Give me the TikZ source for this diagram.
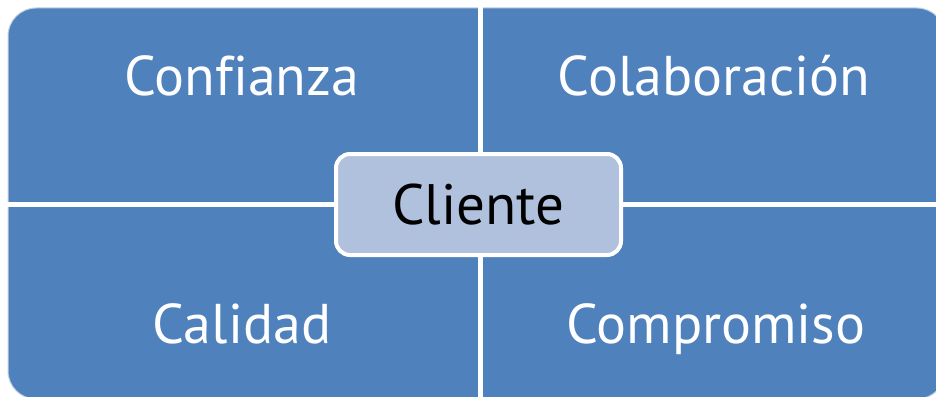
\documentclass[tikz,border=0pt]{standalone}
\usepackage{fontspec}
\setmainfont[Ligatures=NoCommon]{PT Sans}
\definecolor{qblue}{HTML}{4F81BD}
\definecolor{cblue}{HTML}{B0C1DD}
\definecolor{edge}{HTML}{C5D1E5}
\begin{document}
\begin{tikzpicture}[x=1pt,y=-1pt,
  qlabel/.style={text=white,font=\fontsize{56}{64}\selectfont,inner sep=0pt,anchor=base},
  centerbox/.style={fill=cblue,draw=white,line width=4pt,rounded corners=14pt,
    minimum width=285pt,minimum height=101pt,font=\fontsize{57}{64}\selectfont,text=black,inner sep=0pt}]
\useasboundingbox (0,0) rectangle (936,396);
\fill[white] (0,0) rectangle (936,396);
\filldraw[fill=qblue,draw=edge,line width=1pt,rounded corners=28pt] (8,8) rectangle (945,399);
\coordinate (vtop) at (480.5,7);
\coordinate (vbot) at (480.5,400);
\coordinate (hl) at (7,204.5);
\coordinate (hr) at (946,204.5);
\draw[white,line width=5pt] (vtop) -- (vbot);
\draw[white,line width=5pt] (hl) -- (hr);
\node[qlabel] (conf) at (242,95) {Confianza};
\node[qlabel] (colab) at (714,95) {Colaboración};
\node[qlabel] (cal) at (242,343) {Calidad};
\node[qlabel] (comp) at (716,343) {Compromiso};
\node[centerbox] (cli) at (478.5,204.5) {Cliente};
\end{tikzpicture}
\end{document}
